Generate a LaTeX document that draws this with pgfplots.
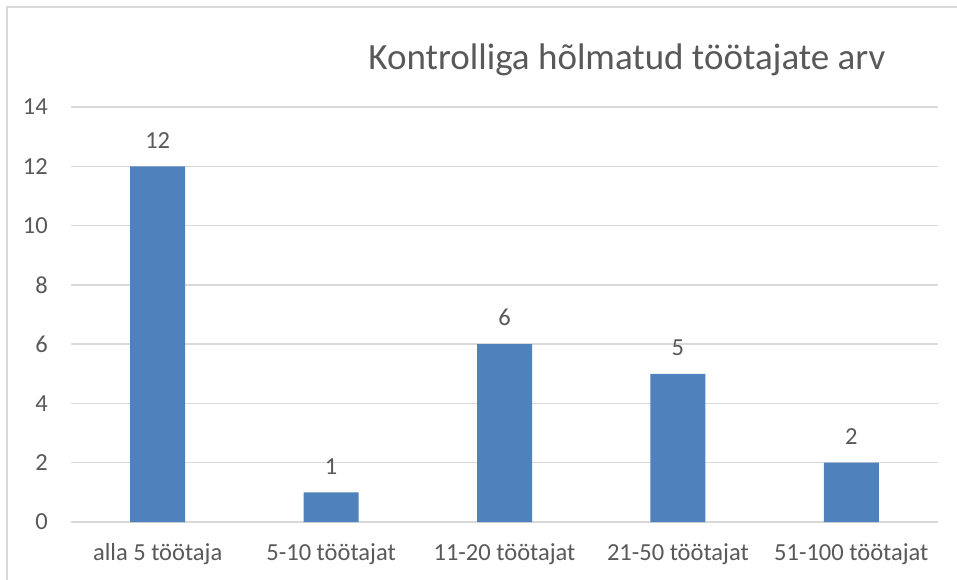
\documentclass[border=0pt]{standalone}
\usepackage{fontspec}
\setmainfont{Carlito}
\usepackage{pgfplots}
\pgfplotsset{compat=1.18}
\definecolor{barblue}{HTML}{4F81BD}
\definecolor{txtgray}{HTML}{595959}
\definecolor{gridgray}{HTML}{D9D9D9}
\begin{document}
\begin{tikzpicture}
\useasboundingbox (0,0) rectangle (957pt,579pt);
\fill[white] (0,0) rectangle (957pt,579pt);
\draw[gridgray, line width=1.4pt] (7pt,-5pt) -- (7pt,572pt) -- (965pt,572pt);
\begin{axis}[
  at={(71pt,57pt)}, anchor=south west,
  scale only axis, width=867pt, height=415pt,
  xmin=-0.5, xmax=4.5, ymin=0, ymax=14,
  ytick={0,2,...,14},
  xtick={0,1,2,3,4},
  xticklabels={alla 5 töötaja, 5-10 töötajat, 11-20 töötajat, 21-50 töötajat, 51-100 töötajat},
  major tick length=0pt,
  axis line style={draw=none},
  ymajorgrids, grid style={gridgray, line width=1.5pt},
  /pgf/number format/assume math mode=true,
  ticklabel style={font=\fontsize{24.5}{29}\selectfont, text=txtgray},
  yticklabel style={anchor=east, inner sep=0pt, xshift=-23pt},
  xticklabel style={anchor=base, inner sep=0pt, yshift=-38pt},
  ybar, bar width=55pt,
  nodes near coords,
  every node near coord/.append style={font=\fontsize{24.5}{29}\selectfont, text=txtgray, anchor=south, inner sep=0pt, yshift=18pt},
]
\addplot[fill=barblue, draw=none] coordinates {(0,12) (1,1) (2,6) (3,5) (4,2)};
\end{axis}
\node[anchor=base, text=txtgray, font=\fontsize{37}{44}\selectfont, inner sep=0pt] at (627pt,509pt) {Kontrolliga hõlmatud töötajate arv};
\end{tikzpicture}
\end{document}
